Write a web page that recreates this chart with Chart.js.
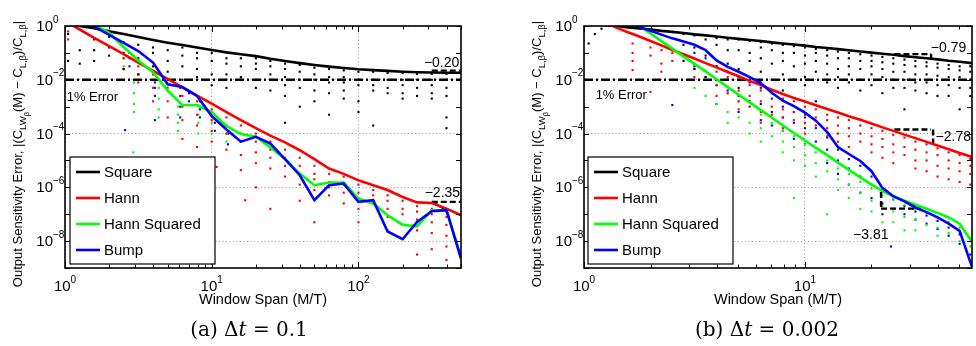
<!DOCTYPE html>
<html>
<head>
<meta charset="utf-8">
<script src="https://cdn.jsdelivr.net/npm/chart.js@4.4.1/dist/chart.umd.min.js"></script>
<style>
  body { margin: 0; background: #fff; width: 976px; height: 346px; overflow: hidden; position: relative; }
  .pane { position: absolute; top: 0; width: 488px; height: 346px; }
  .cap { position: absolute; top: 317px; width: 240px; text-align: center; font-family: "DejaVu Serif", "Liberation Serif", serif; font-size: 20px; color: #000; white-space: nowrap; }
  .cap i { font-style: italic; }
</style>
</head>
<body>
<div class="pane" style="left:0"><canvas id="chartA" width="488" height="346"></canvas></div>
<div class="pane" style="left:488px"><canvas id="chartB" width="488" height="346"></canvas></div>
<div class="cap" style="left:129px">(a) Δ<i>t</i> = 0.1</div>
<div class="cap" style="left:647px">(b) Δ<i>t</i> = 0.002</div>
<script>
// ---- shared ----
const SERIES = ['Square', 'Hann', 'Hann Squared', 'Bump'];
const COLORS = ['#000000', '#ff0000', '#00ff00', '#0000ff'];
const errLevel = 1e-2;               // the "1% Error" line
const yTicks = [1e-9, 1e-8, 1e-7, 1e-6, 1e-5, 1e-4, 1e-3, 1e-2, 1e-1, 1];
const yLabelExp = [0, -2, -4, -6, -8];

// ---- (a) dt = 0.1 ----  error values are log10
const spanA = [1, 1.26, 1.58, 2, 2.51, 3.16, 3.98, 5.01, 6.31, 7.94, 10, 12.6, 15.8, 20, 25.1, 31.6, 39.8, 50.1, 63.1, 79.4, 100, 126, 158, 200, 251, 316, 398, 500];
const squareA = [0.1, 0.0, -0.08, -0.20, -0.30, -0.41, -0.52, -0.62, -0.71, -0.80, -0.89, -0.98, -1.05, -1.12, -1.22, -1.30, -1.38, -1.45, -1.51, -1.56, -1.61, -1.64, -1.67, -1.70, -1.72, -1.73, -1.74, -1.74];
const hannA = [0.18, -0.13, -0.44, -0.75, -1.05, -1.36, -1.67, -1.97, -2.28, -2.59, -2.89, -3.20, -3.50, -3.80, -4.08, -4.33, -4.62, -4.95, -5.30, -5.50, -5.74, -5.92, -6.10, -6.36, -6.56, -6.58, -6.79, -7.04];
const hann2A = [1.5, 0.8, 0.05, -0.25, -0.78, -1.28, -1.72, -2.40, -2.94, -2.94, -3.20, -3.72, -4.02, -4.12, -4.52, -4.95, -5.49, -5.92, -5.82, -5.82, -6.42, -6.60, -7.04, -7.39, -7.45, -6.85, -6.85, -8.59];
const bumpA = [1.5, 0.7, -0.02, -0.33, -0.63, -0.93, -1.36, -2.17, -2.27, -2.60, -3.35, -3.85, -4.30, -4.12, -4.37, -4.95, -5.55, -6.48, -5.92, -5.86, -6.54, -6.48, -7.64, -7.93, -7.29, -6.89, -6.85, -8.65];
const xTicksA = [1, 2, 3, 4, 5, 6, 7, 8, 9, 10, 20, 30, 40, 50, 60, 70, 80, 90, 100, 200, 300, 400, 500];
const xLabelExpA = [0, 1, 2];
// scattered samples: [span, [log10 errors...]]
const squareDotsA = [[1.05, [-0.3, -1.3]], [1.26, [-0.9, -1.4]], [1.58, [-0.5, -0.9, -1.3]], [2, [-0.4, -0.8, -1.1]], [2.51, [-0.6, -1.0, -1.6]], [3.16, [-0.7, -1.2, -1.8]], [3.98, [-0.8, -1.0, -1.5]], [5.01, [-0.9, -1.3, -1.7]], [6.31, [-0.8, -1.1, -1.5, -2.0]], [7.94, [-1.0, -1.2, -1.6, -1.9]], [10, [-1.0, -1.3, -1.8, -2.2]], [12.6, [-1.2, -1.4, -1.8, -2.0, -2.3]], [15.8, [-1.2, -1.5, -1.9, -2.0]], [20, [-1.2, -1.4, -1.6, -2.0, -2.3]], [25.1, [-1.3, -1.5, -1.8, -2.0, -2.4]], [31.6, [-1.4, -1.6, -1.9, -2.2, -2.6, -3.6]], [39.8, [-1.45, -1.7, -2.0, -2.3, -3.0]], [50.1, [-1.55, -1.8, -2.0, -2.4, -2.8]], [63.1, [-1.6, -1.9, -2.1, -2.5, -3.3]], [79.4, [-1.65, -1.9, -2.1, -2.4, -2.7]], [100, [-1.7, -2.0, -2.2, -2.8, -3.2]], [126, [-1.7, -2.0, -2.2, -2.4, -3.7]], [158, [-1.75, -2.0, -2.3, -2.5]], [200, [-1.75, -2.0, -2.2, -2.5, -2.7]], [251, [-1.78, -2.0, -2.3, -2.6]], [316, [-1.78, -2.0, -2.2, -2.5, -2.7]], [398, [-1.78, -2.0, -2.3, -2.6, -3.4, -3.8]]];
const hannDotsA = [[1.05, [-0.2, -0.5]], [2.51, [-1.2, -1.6]], [3.16, [-1.5, -1.8, -2.1]], [3.98, [-1.8, -2.3, -2.8]], [5.01, [-2.3, -2.8, -3.4]], [6.31, [-2.6, -3.0, -3.5, -4.2]], [7.94, [-2.8, -3.3, -3.7, -4.5]], [10, [-3.1, -3.5, -3.9, -4.3]], [10.8, [-5.24]], [12.6, [-3.4, -3.7, -4.0, -4.6]], [15.8, [-3.7, -4.0, -4.3, -4.8, -5.36]], [16.9, [-6.48]], [20, [-4.0, -4.3, -4.7, -5.1, -6.0]], [25.1, [-4.3, -4.6, -4.9, -5.3, -6.8]], [31.6, [-4.6, -4.9, -5.2, -5.6]], [39.8, [-4.9, -5.2, -5.5, -5.9, -6.5]], [50.1, [-5.2, -5.5, -5.7, -6.1, -7.3]], [63.1, [-5.5, -5.8, -6.0, -6.3]], [79.4, [-5.6, -5.9, -6.2, -6.6]], [100, [-5.9, -6.2, -6.4, -6.8, -7.3]], [126, [-6.1, -6.3, -6.6]], [158, [-6.3, -6.5, -6.8, -7.1]], [200, [-6.5, -6.8, -7.0, -7.4]], [251, [-6.7, -6.9, -7.2, -7.6, -8.5]], [316, [-6.8, -7.0, -7.3, -7.7, -8.3]], [398, [-6.9, -7.1, -7.4, -7.8, -8.2, -8.7]]];
const hann2DotsA = [[2.51, [-1.2, -1.5]], [2.92, [-4.7]], [2.95, [-2.1, -2.5, -2.9, -3.2]], [4.35, [-2.3, -2.7, -3.1, -3.4]], [5.9, [-3.0, -3.3, -3.6, -3.9]], [8.1, [-3.3, -3.6, -4.0]], [10, [-3.6, -4.0]], [12.6, [-4.0, -4.3]], [15.8, [-4.3]]];
const bumpDotsA = [[2.57, [-3.87]], [2.75, [-1.0, -1.2, -1.5]], [4.1, [-2.1, -2.3, -2.6, -3.5]], [6.1, [-2.3, -2.6, -3.0, -3.4]], [7, [-2.5, -2.8]], [8.3, [-2.8, -3.1, -3.4]], [10.5, [-3.6, -3.9]], [12.9, [-4.0, -4.4]]];
// slope guides: [x1, log y1, x2, log y2]
const slopeA = [[316, -1.66, 500, -1.66], [316, -6.54, 500, -6.54], [316, -6.54, 410, -6.87]];
// notes: [text, x, log y, align]
const notesA = [['1% Error', 1.027, -2.64, 'left'], ['\u22120.20', 487, -1.39, 'right'], ['\u22122.35', 493, -6.22, 'right']];

// ---- (b) dt = 0.002 ----
const spanB = [1, 1.12, 1.26, 1.41, 1.58, 1.78, 2, 2.24, 2.51, 2.82, 3.16, 3.55, 3.98, 4.47, 5.01, 5.62, 6.31, 7.08, 7.94, 8.91, 10, 11.2, 12.6, 14.1, 15.8, 17.8, 20, 22.4, 25.1, 28.2, 31.6, 35.5, 39.8, 44.7, 50.1, 57];
const squareB = [0.12, 0.08, 0.04, 0.0, -0.05, -0.09, -0.13, -0.18, -0.22, -0.26, -0.31, -0.35, -0.39, -0.44, -0.48, -0.52, -0.56, -0.61, -0.65, -0.69, -0.73, -0.78, -0.82, -0.86, -0.90, -0.95, -0.99, -1.03, -1.07, -1.12, -1.16, -1.20, -1.24, -1.29, -1.33, -1.38];
const hannB = [0.43, 0.26, 0.10, -0.07, -0.23, -0.39, -0.56, -0.72, -0.89, -1.05, -1.21, -1.38, -1.54, -1.71, -1.87, -2.04, -2.20, -2.37, -2.53, -2.68, -2.81, -2.95, -3.09, -3.22, -3.36, -3.49, -3.63, -3.77, -3.90, -4.04, -4.17, -4.31, -4.44, -4.58, -4.72, -4.87];
const hann2B = [1.4, 1.12, 0.84, 0.56, 0.28, 0.0, -0.28, -0.56, -0.84, -1.13, -1.41, -1.69, -1.98, -2.27, -2.55, -2.84, -3.13, -3.41, -3.70, -3.98, -4.26, -4.53, -4.80, -5.08, -5.35, -5.63, -5.90, -6.13, -6.33, -6.50, -6.65, -6.80, -6.95, -7.12, -7.35, -8.03];
const bumpB = [1.2, 0.95, 0.70, 0.45, 0.18, -0.04, -0.18, -0.32, -0.46, -0.58, -0.70, -0.90, -1.28, -1.52, -1.70, -1.90, -2.12, -2.48, -2.78, -2.98, -3.22, -3.52, -3.95, -4.50, -4.76, -5.02, -5.40, -6.02, -6.33, -6.52, -6.75, -6.92, -7.12, -7.35, -7.62, -8.96];
const xTicksB = [1, 2, 3, 4, 5, 6, 7, 8, 9, 10, 20, 30, 40, 50];
const xLabelExpB = [0, 1];
const squareDotsB = [[1.05, [-0.65]], [1.12, [-0.3]], [1.2, [-0.1]], [2.82, [-0.3, -0.7, -1.3]], [3.16, [-0.35, -0.8, -1.6]], [3.55, [-0.5, -1.1, -1.9]], [3.98, [-0.45, -0.7, -1.5]], [4.47, [-0.5, -0.9, -1.4, -2.0]], [5.01, [-0.5, -0.9, -1.6, -2.3]], [5.62, [-0.55, -1.0, -1.3, -1.9]], [6.31, [-0.6, -0.8, -1.2, -1.7, -2.1]], [7.08, [-0.65, -0.9, -1.4, -2.0]], [7.94, [-0.7, -1.0, -1.3, -1.8, -2.4]], [8.91, [-0.75, -1.0, -1.5, -2.0]], [10, [-0.8, -1.1, -1.4, -1.9, -2.2]], [11.2, [-0.85, -1.0, -1.3, -1.7, -2.8]], [12.6, [-0.9, -1.1, -1.4, -1.8, -2.1]], [14.1, [-0.95, -1.2, -1.6, -1.9, -2.3]], [15.8, [-1.0, -1.2, -1.5, -1.8, -2.1]], [17.8, [-1.05, -1.3, -1.6, -2.0, -2.4]], [20, [-1.1, -1.3, -1.5, -1.8, -2.2]], [22.4, [-1.15, -1.35, -1.6, -1.9, -2.5]], [25.1, [-1.2, -1.4, -1.7, -2.0, -2.3]], [28.2, [-1.25, -1.45, -1.7, -2.0, -2.3, -3.1]], [31.6, [-1.3, -1.5, -1.8, -2.1, -2.4]], [35.5, [-1.35, -1.5, -1.8, -2.1, -2.5]], [39.8, [-1.4, -1.55, -1.85, -2.2, -2.6]], [44.7, [-1.45, -1.6, -1.9, -2.2, -2.6]], [50.1, [-1.5, -1.65, -1.9, -2.3, -3.1]], [56, [-1.5, -1.7, -2.0, -2.3, -2.6]]];
const hannDotsB = [[1.66, [-0.65, -1.0, -1.3, -1.64]], [2, [-0.8, -1.1, -2.45]], [2.24, [-0.9, -1.4, -1.7]], [2.51, [-1.0, -1.3]], [3.16, [-1.4, -1.9]], [3.98, [-1.7, -2.2, -2.6]], [4.47, [-1.9, -2.5]], [5.01, [-2.0, -2.4, -2.8, -3.1]], [5.62, [-2.2, -2.6, -3.0]], [6.31, [-2.4, -2.8, -3.2, -3.6]], [7.08, [-2.5, -3.0, -3.3]], [7.94, [-2.7, -3.1, -3.4, -3.8]], [8.91, [-2.8, -3.2, -3.5]], [10, [-3.0, -3.3, -3.6, -4.0]], [11.2, [-3.1, -3.4, -3.7]], [12.6, [-3.3, -3.5, -3.8, -4.1]], [14.1, [-3.4, -3.7, -4.0, -4.3]], [15.8, [-3.5, -3.8, -4.1, -4.5]], [17.8, [-3.7, -4.0, -4.3]], [20, [-3.8, -4.1, -4.4, -4.7]], [22.4, [-3.9, -4.2, -4.5, -4.9]], [25.1, [-4.05, -4.4, -4.7, -5.1]], [28.2, [-4.15, -4.5, -4.8]], [31.6, [-4.3, -4.6, -5.0, -5.3]], [35.5, [-4.4, -4.7, -5.0, -5.4]], [39.8, [-4.55, -4.8, -5.2, -5.6]], [44.7, [-4.7, -5.0, -5.3, -5.7]], [50.1, [-4.8, -5.1, -5.4, -5.8]], [56, [-4.95, -5.2, -5.5, -5.9]]];
const hann2DotsB = [[3.16, [-1.6, -2.3]], [3.55, [-1.9, -2.6]], [3.98, [-2.2, -2.9]], [4.47, [-2.5, -3.2, -3.6]], [5.01, [-2.8, -3.4]], [5.62, [-3.0, -3.6, -4.0]], [6.31, [-3.3, -3.8, -4.3]], [7.08, [-3.6, -4.1]], [7.94, [-3.9, -4.3, -4.7]], [8.91, [-4.1, -4.5, -5.0, -6.4]], [10, [-4.4, -4.8, -5.2]], [11.2, [-4.7, -5.1, -5.6]], [12.6, [-5.0, -5.4, -7.0]], [14.1, [-5.3, -5.7, -6.1]], [15.8, [-5.5, -5.9, -6.4]], [17.8, [-5.8, -6.2, -6.8]], [20, [-6.05, -6.5, -6.9]], [22.4, [-6.3, -6.7, -7.3]], [25.1, [-6.45, -6.9, -7.3]], [28.2, [-6.65, -7.1, -7.6]], [31.6, [-6.8, -7.2, -7.6]], [35.5, [-6.95, -7.4]], [39.8, [-7.1, -7.5, -7.8]], [44.7, [-7.3, -7.7]], [50.1, [-7.5, -8.0]], [56, [-8.2]]];
const bumpDotsB = [[2.51, [-2.94]], [3.16, [-1.0, -1.5]], [3.55, [-1.2, -1.9]], [3.98, [-1.5, -2.2, -2.9]], [4.47, [-1.7, -2.4]], [5.01, [-1.9, -2.6, -3.2]], [5.62, [-2.1, -2.8]], [6.31, [-2.3, -2.9, -3.5]], [7.08, [-2.7, -3.2, -3.7]], [7.94, [-3.0, -3.4, -3.9]], [8.91, [-3.2, -3.6, -4.2]], [10, [-3.4, -3.8, -4.4]], [11.2, [-3.8, -4.3]], [12.6, [-4.15, -4.6, -5.1]], [14.1, [-4.6, -5.0, -5.5]], [15.8, [-4.95, -5.3, -5.9]], [17.8, [-5.2, -5.6, -6.2]], [20, [-5.6, -5.9, -6.4]], [22.4, [-6.15, -6.6, -7.0]], [24.5, [-8.2]], [25.1, [-6.45, -6.8]], [28.2, [-6.7, -7.0]], [31.6, [-6.9, -7.2]], [35.5, [-7.05, -7.35]], [39.8, [-7.25, -7.55]], [44.7, [-7.5, -7.8]], [50.1, [-7.75, -8.1]], [56, [-8.5]]];
const slopeB = [[25.4, -1.045, 37.2, -1.045], [37.2, -1.045, 37.2, -1.24], [25.4, -3.85, 37.2, -3.85], [38, -3.85, 38, -4.37], [22.1, -6.17, 22.1, -6.79], [22.1, -6.79, 33.4, -6.79]];
const notesB = [['1% Error', 1.129, -2.6, 'left'], ['\u22120.79', 37.1, -0.82, 'left'], ['\u22122.78', 39, -4.13, 'left'], ['\u22123.81', 16.5, -7.78, 'left']];

// ---- helpers ----
const FONT = '"Liberation Sans", Arial, Helvetica, sans-serif';
const isDecade = v => Math.abs(Math.log10(v) - Math.round(Math.log10(v))) < 1e-9;

function toPoints(xs, logs) {
    return xs.map((x, i) => ({ x, y: Math.pow(10, logs[i]) }));
}
function toDots(cols) {
    const out = [];
    cols.forEach(([x, ws]) => ws.forEach(w => out.push({ x, y: Math.pow(10, w) })));
    return out;
}

// "10" with a raised exponent
function powLabel(ctx, exp, x, y, align) {
    const base = '10', sup = String(exp).replace('-', '\u2212');
    ctx.font = '15px ' + FONT;
    const wb = ctx.measureText(base).width;
    ctx.font = '10px ' + FONT;
    const ws = ctx.measureText(sup).width;
    const x0 = align === 'center' ? x - (wb + ws) / 2 : x - wb;
    ctx.textAlign = 'left';
    ctx.textBaseline = 'alphabetic';
    ctx.font = '15px ' + FONT;
    ctx.fillText(base, x0, y);
    ctx.font = '10px ' + FONT;
    ctx.fillText(sup, x0 + wb, y - 8.5);
}

// rotated y title with sub/sub-sub scripts
function yTitle(ctx, xBase, yMid) {
    const segs = [
        ['Output Sensitivity Error, |(C', 13, 0],
        ['LW', 9.5, 3.5],
        ['\u03b2', 7.5, 6.5],
        ['(M) \u2212 C', 13, 0],
        ['L,\u03b2', 9.5, 3.5],
        [')/C', 13, 0],
        ['L,\u03b2', 9.5, 3.5],
        ['|', 13, 0],
    ];
    let total = 0;
    segs.forEach(s => { ctx.font = s[1] + 'px ' + FONT; s.w = ctx.measureText(s[0]).width; total += s.w; });
    ctx.save();
    ctx.translate(xBase, yMid);
    ctx.rotate(-Math.PI / 2);
    ctx.textAlign = 'left';
    ctx.textBaseline = 'alphabetic';
    ctx.fillStyle = '#000';
    let cx = -total / 2;
    segs.forEach(s => { ctx.font = s[1] + 'px ' + FONT; ctx.fillText(s[0], cx, s[2]); cx += s.w; });
    ctx.restore();
}

function decor(cfg) {
    return {
        id: 'decor',
        afterDatasetsDraw(chart) {
            const { ctx, chartArea: a, scales: { x, y } } = chart;
            ctx.save();
            // inward ticks
            ctx.strokeStyle = '#000';
            ctx.lineWidth = 1;
            ctx.beginPath();
            cfg.xTicks.forEach(v => {
                const px = Math.round(x.getPixelForValue(v)) + 0.5;
                const len = isDecade(v) ? 6 : 3.5;
                ctx.moveTo(px, a.bottom); ctx.lineTo(px, a.bottom - len);
                ctx.moveTo(px, a.top); ctx.lineTo(px, a.top + len);
            });
            yTicks.forEach(v => {
                const py = Math.round(y.getPixelForValue(v)) + 0.5;
                ctx.moveTo(a.left, py); ctx.lineTo(a.left + 5, py);
                ctx.moveTo(a.right, py); ctx.lineTo(a.right - 5, py);
            });
            ctx.stroke();
            ctx.lineWidth = 1.6;
            ctx.strokeRect(a.left, a.top, a.right - a.left, a.bottom - a.top);

            // notes
            ctx.fillStyle = '#000';
            ctx.textBaseline = 'middle';
            cfg.notes.forEach(([t, nx, ny, al]) => {
                ctx.font = (t === '1% Error' ? '13px ' : '14px ') + FONT;
                ctx.textAlign = al;
                ctx.fillText(t, x.getPixelForValue(nx), y.getPixelForValue(Math.pow(10, ny)));
            });

            // legend box
            const bx = a.left + cfg.legendDx, by = a.top + 131, bw = 145, bh = 107;
            ctx.fillStyle = '#fff';
            ctx.fillRect(bx, by, bw, bh);
            ctx.lineWidth = 1.2;
            ctx.strokeStyle = '#000';
            ctx.strokeRect(bx, by, bw, bh);
            ctx.font = '15px ' + FONT;
            ctx.textAlign = 'left';
            ctx.textBaseline = 'middle';
            SERIES.forEach((name, i) => {
                const ly = by + 15 + 26 * i;
                ctx.strokeStyle = COLORS[i];
                ctx.lineWidth = 2.6;
                ctx.beginPath(); ctx.moveTo(bx + 6, ly); ctx.lineTo(bx + 30, ly); ctx.stroke();
                ctx.fillStyle = '#000';
                ctx.fillText(name, bx + 34, ly + 1);
            });
            ctx.restore();
        },
        afterDraw(chart) {
            const { ctx, chartArea: a, scales: { x, y } } = chart;
            ctx.save();
            ctx.fillStyle = '#000';
            yLabelExp.forEach(e => powLabel(ctx, e, a.left - 12, y.getPixelForValue(Math.pow(10, e)) + 5, 'right'));
            cfg.xLabelExp.forEach(e => powLabel(ctx, e, x.getPixelForValue(Math.pow(10, e)), a.bottom + 23, 'center'));
            ctx.font = '14.5px ' + FONT;
            ctx.textAlign = 'center';
            ctx.textBaseline = 'alphabetic';
            ctx.fillText('Window Span (M/T)', (a.left + a.right) / 2, a.bottom + 36);
            yTitle(ctx, a.left - 43, 154);
            ctx.restore();
        }
    };
}

function buildPanel(id, cfg) {
    const lines = [cfg.bump, cfg.hann2, cfg.hann, cfg.square];
    const lineColors = [COLORS[3], COLORS[2], COLORS[1], COLORS[0]];
    const lineNames = ['Bump', 'Hann Squared', 'Hann', 'Square'];
    const datasets = [];
    lines.forEach((logs, i) => datasets.push({
        label: lineNames[i], data: toPoints(cfg.span, logs),
        borderColor: lineColors[i], borderWidth: 2.6, pointRadius: 0, tension: 0, order: 1
    }));
    datasets.push({
        label: '1% Error', data: [{ x: 1, y: errLevel }, { x: cfg.xMax, y: errLevel }],
        borderColor: '#000', borderWidth: 2.6, borderDash: [9, 3, 2, 3], pointRadius: 0, order: 2
    });
    cfg.slopes.forEach(s => datasets.push({
        label: 'slope', data: [{ x: s[0], y: Math.pow(10, s[1]) }, { x: s[2], y: Math.pow(10, s[3]) }],
        borderColor: '#000', borderWidth: 2.4, borderDash: [6, 3], pointRadius: 0, order: 2
    }));
    [cfg.squareDots, cfg.hannDots, cfg.hann2Dots, cfg.bumpDots].forEach((cols, i) => datasets.push({
        label: SERIES[i] + ' samples', data: toDots(cols), showLine: false,
        pointStyle: 'rect', pointRadius: 1.5, borderWidth: 0,
        backgroundColor: COLORS[i], pointBackgroundColor: COLORS[i], order: 3
    }));

    return new Chart(document.getElementById(id), {
        type: 'line',
        data: { datasets },
        options: {
            responsive: false, animation: false, events: [],
            layout: { padding: { left: cfg.padLeft, right: cfg.padRight, top: 26, bottom: 78 } },
            plugins: { legend: { display: false }, tooltip: { enabled: false } },
            scales: {
                x: {
                    type: 'logarithmic', min: 1, max: cfg.xMax,
                    afterBuildTicks: s => { s.ticks = cfg.xTicks.map(v => ({ value: v })); },
                    afterFit: s => { s.height = 0; },
                    ticks: { display: false },
                    grid: { drawTicks: false, lineWidth: 1, color: c => (c.tick && isDecade(c.tick.value)) ? '#9a9a9a' : 'rgba(0,0,0,0)' },
                    border: { display: false, dash: [1, 2.5] }
                },
                y: {
                    type: 'logarithmic', min: 1e-9, max: 1,
                    afterBuildTicks: s => { s.ticks = yTicks.map(v => ({ value: v })); },
                    afterFit: s => { s.width = 0; },
                    ticks: { display: false },
                    grid: { drawTicks: false, lineWidth: 1, color: c => (c.tick && yLabelExp.includes(Math.round(Math.log10(c.tick.value)))) ? '#9a9a9a' : 'rgba(0,0,0,0)' },
                    border: { display: false, dash: [1, 2.5] }
                }
            }
        },
        plugins: [decor(cfg)]
    });
}

buildPanel('chartA', {
    span: spanA, square: squareA, hann: hannA, hann2: hann2A, bump: bumpA,
    squareDots: squareDotsA, hannDots: hannDotsA, hann2Dots: hann2DotsA, bumpDots: bumpDotsA,
    slopes: slopeA, notes: notesA, xTicks: xTicksA, xLabelExp: xLabelExpA,
    xMax: 500, padLeft: 65, padRight: 27, legendDx: 5
});
buildPanel('chartB', {
    span: spanB, square: squareB, hann: hannB, hann2: hann2B, bump: bumpB,
    squareDots: squareDotsB, hannDots: hannDotsB, hann2Dots: hann2DotsB, bumpDots: bumpDotsB,
    slopes: slopeB, notes: notesB, xTicks: xTicksB, xLabelExp: xLabelExpB,
    xMax: 57, padLeft: 96, padRight: 1, legendDx: 4
});
</script>
</body>
</html>
